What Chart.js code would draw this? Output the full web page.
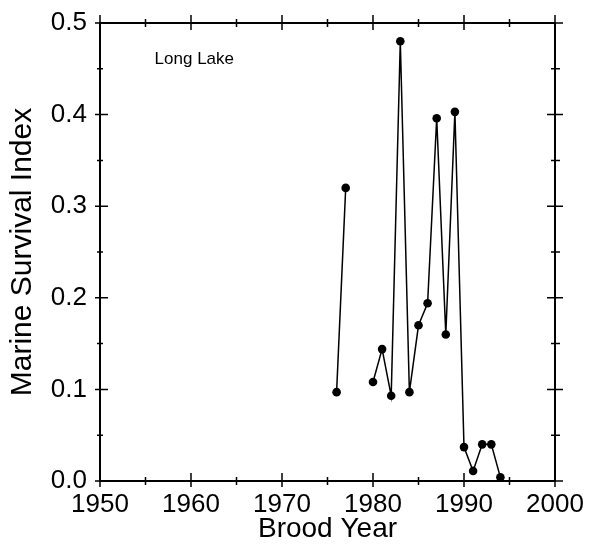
<!DOCTYPE html>
<html>
<head>
<meta charset="utf-8">
<script src="https://cdn.jsdelivr.net/npm/chart.js@4"></script>
<style>
  body { margin: 0; background: #fff; }
  #wrap { width: 599px; height: 547px; position: relative; }
</style>
</head>
<body>
<div id="wrap"><canvas id="survChart"></canvas></div>
<script>
// Long Lake marine survival by brood year
const broodYears = [1976, 1977, 1978, 1979, 1980, 1981, 1982, 1983, 1984, 1985, 1986, 1987, 1988, 1989, 1990, 1991, 1992, 1993, 1994];
const survival   = [0.097, 0.320, null, null, 0.108, 0.144, 0.093, 0.480, 0.097, 0.170, 0.194, 0.396, 0.160, 0.403, 0.037, 0.011, 0.040, 0.040, 0.004];
const xTicks = [1950, 1960, 1970, 1980, 1990, 2000];
const yTicks = [0.0, 0.1, 0.2, 0.3, 0.4, 0.5];

const FONT = "'Liberation Sans', Arial, sans-serif";

// frame + crossing tick marks on all four sides, and the panel label
const framePlugin = {
  id: 'frame',
  afterDraw(chart) {
    const { ctx, chartArea: a, scales: { x, y } } = chart;
    ctx.save();
    ctx.strokeStyle = '#000';
    ctx.lineWidth = 2;
    ctx.strokeRect(a.left, a.top, a.right - a.left, a.bottom - a.top);
    ctx.lineWidth = 1.5;
    ctx.beginPath();
    const xMinor = xTicks.slice(0, -1).map(v => v + 5);
    const yMinor = yTicks.slice(0, -1).map(v => v + 0.05);
    xTicks.forEach(v => {
      const px = x.getPixelForValue(v);
      ctx.moveTo(px, a.bottom - 8); ctx.lineTo(px, a.bottom + 6);
      ctx.moveTo(px, a.top - 8); ctx.lineTo(px, a.top + 7);
    });
    xMinor.forEach(v => {
      const px = x.getPixelForValue(v);
      ctx.moveTo(px, a.bottom - 4); ctx.lineTo(px, a.bottom + 4);
      ctx.moveTo(px, a.top - 4); ctx.lineTo(px, a.top + 4);
    });
    yTicks.forEach(v => {
      const py = y.getPixelForValue(v);
      ctx.moveTo(a.left - 5, py); ctx.lineTo(a.left + 8, py);
      ctx.moveTo(a.right - 8, py); ctx.lineTo(a.right + 8, py);
    });
    yMinor.forEach(v => {
      const py = y.getPixelForValue(v);
      ctx.moveTo(a.left - 3, py); ctx.lineTo(a.left + 3, py);
      ctx.moveTo(a.right - 4, py); ctx.lineTo(a.right + 5, py);
    });
    ctx.stroke();

    ctx.fillStyle = '#000';
    ctx.font = '17px ' + FONT;
    ctx.textBaseline = 'middle';
    ctx.fillText('Long Lake', x.getPixelForValue(1956), y.getPixelForValue(0.46));
    ctx.restore();
  }
};

const ctx = document.getElementById('survChart').getContext('2d');

new Chart(ctx, {
  type: 'line',
  data: {
    datasets: [{
      data: broodYears.map((yr, i) => ({ x: yr, y: survival[i] })),
      borderColor: '#000',
      borderWidth: 1.5,
      backgroundColor: '#000',
      pointRadius: 4.3,
      pointBackgroundColor: '#000',
      pointBorderWidth: 0,
      spanGaps: false,
      tension: 0
    }]
  },
  options: {
    responsive: true,
    maintainAspectRatio: false,
    animation: false,
    layout: { padding: { left: 0, right: 44, top: 23, bottom: 0 } },
    plugins: { legend: { display: false }, tooltip: { enabled: false } },
    scales: {
      x: {
        type: 'linear',
        min: 1950, max: 2000,
        afterBuildTicks: s => { s.ticks = xTicks.map(v => ({ value: v })); },
        afterFit: s => { s.height = 66; },
        grid: { display: false },
        border: { display: false },
        ticks: { color: '#000', font: { family: FONT, size: 26 }, padding: 0, maxRotation: 0, autoSkip: false, callback: v => String(v) },
        title: { display: true, text: 'Brood Year', color: '#000', font: { family: FONT, size: 28 }, padding: { top: 0, bottom: 1 } }
      },
      y: {
        min: 0, max: 0.5,
        afterBuildTicks: s => { s.ticks = yTicks.map(v => ({ value: v })); },
        afterFit: s => { s.width = 100; },
        grid: { display: false },
        border: { display: false },
        ticks: { color: '#000', font: { family: FONT, size: 26 }, padding: 5, callback: v => v.toFixed(1) },
        title: { display: true, text: 'Marine Survival Index', color: '#000', font: { family: FONT, size: 30 }, padding: { top: 5, bottom: 0 } }
      }
    }
  },
  plugins: [framePlugin]
});
</script>
</body>
</html>
